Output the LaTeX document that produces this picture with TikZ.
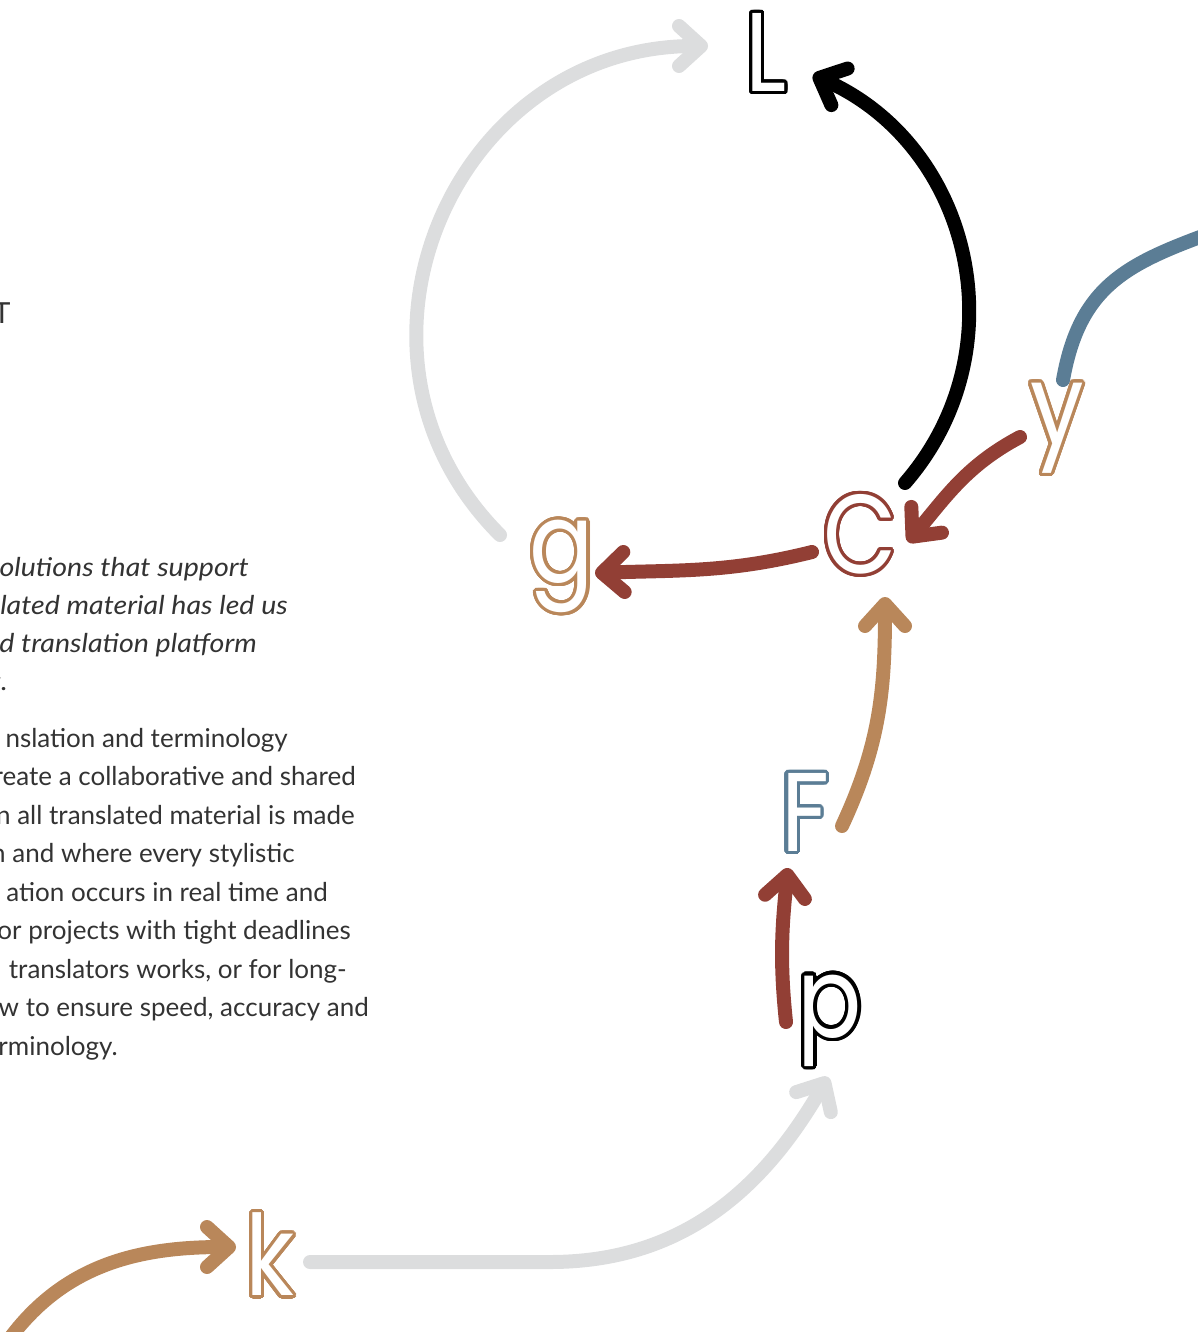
\documentclass[tikz,border=0pt]{standalone}
\usepackage{fontspec}
\setmainfont{Lato}
\newfontfamily\glyphfont[FakeStretch=0.85]{Poppins}
\newfontfamily\slantfont[FakeStretch=1.1]{Lato}
\usepackage{contour}
\contourlength{3.2pt}
\contournumber{32}
\usetikzlibrary{arrows.meta}
\definecolor{arcgray}{HTML}{DCDDDE}
\definecolor{rust}{HTML}{923F35}
\definecolor{sand}{HTML}{B9875A}
\definecolor{steel}{HTML}{5B7D95}
\definecolor{ink}{HTML}{333333}
\tikzstyle{letter} = [font=\glyphfont\fontsize{112pt}{112pt}\selectfont, text=white, inner sep=0pt]
\tikzstyle{flow} = [line width=14pt, line cap=round, -{Straight Barb[length=22pt,width=40pt,round]}]
\tikzstyle{body} = [font=\fontsize{26pt}{38pt}\selectfont, text=ink, anchor=base east, inner sep=0pt]
\tikzstyle{slant} = [body, font=\slantfont\fontsize{26pt}{38pt}\selectfont\itshape]

\begin{document}
\begin{tikzpicture}[x=1pt,y=1pt]
  \useasboundingbox (0,0) rectangle (1198,-1332);
  \clip (0,0) rectangle (1198,-1332);

  % letters
  \node[letter] (C) at (860,-536) {\contour{rust}{C}};
  \node[letter,above of=C,node distance=482pt,xshift=-94pt] (L) {\contour{black}{L}};
  \node[letter,right of=C,node distance=197pt,yshift=106pt] (y) {\contour{sand}{y}};
  \node[letter,left of=C,node distance=298pt,yshift=-32pt] (g) {\contour{sand}{g}};
  \node[letter,below of=C,node distance=278pt,xshift=-55pt] (F) {\contour{steel}{F}};
  \node[letter,below of=F,node distance=208pt,xshift=25pt] (p) {\contour{black}{p}};
  \node[letter,left of=p,node distance=560pt,yshift=-234pt] (k) {\contour{sand}{k}};

  % text cut by the left edge
  \node[body,anchor=base] (head) at (2,-323) {\fontsize{29pt}{29pt}\selectfont T};
  \node[slant] (i1) at (249,-576) {olutions that support};
  \node[slant] (i2) at (288,-614) {lated material has led us};
  \node[slant] (i3) at (257,-652) {d translation platform};
  \node[slant] (i4) at (8,-690) {t.};
  \node[body] (b1) at (288,-747) {nslation and terminology};
  \node[body] (b2) at (356,-785.5) {reate a collaborative and shared};
  \node[body] (b3) at (355,-824) {n all translated material is made};
  \node[body] (b4) at (295,-862.5) {n and where every stylistic};
  \node[body] (b5) at (328,-901) {ation occurs in real time and};
  \node[body] (b6) at (351,-939.5) {or projects with tight deadlines};
  \node[body] (b7) at (347,-978) {translators works, or for long-};
  \node[body] (b8) at (369,-1016.5) {w to ensure speed, accuracy and};
  \node[body] (b9) at (118,-1055) {rminology.};

  % connectors
  \draw[flow,arcgray] ([shift={(-62,33)}]g.center) to[out=135,in=180,looseness=1.23] ([shift={(-58,8)}]L.center);
  \draw[flow,black] ([shift={(45,53)}]C.center) to[out=49,in=-24,looseness=1.07] ([shift={(47,-21)}]L.center);
  \draw[flow,rust] ([shift={(-48,-16)}]C.center) to[out=194,in=2] ([shift={(33,-5)}]g.center);
  \draw[flow,rust] ([shift={(-37,-7)}]y.center) to[out=208,in=50] ([shift={(48,-6)}]C.center);
  \draw[flow,sand] ([shift={(37,-12)}]F.center) to[out=65,in=-90] ([shift={(25,-61)}]C.center);
  \draw[flow,rust] ([shift={(-44,0)}]p.center) to[out=96,in=-96] ([shift={(-17,-54)}]F.center);
  \draw[flow,arcgray] ([shift={(40,-6)}]k.center) -- ++(240,0) to[out=0,in=-120] ([shift={(-2,-55)}]p.center);
  \coordinate (kin) at (5,-1345);
  \draw[flow,sand] (kin) to[out=55,in=180] ([shift={(-34,9)}]k.center);
  \coordinate (yout) at (1230,-226);
  \draw[line width=14pt,line cap=round,steel] ([shift={(6,50)}]y.center) to[out=80,in=200,looseness=1.15] (yout);
\end{tikzpicture}
\end{document}
